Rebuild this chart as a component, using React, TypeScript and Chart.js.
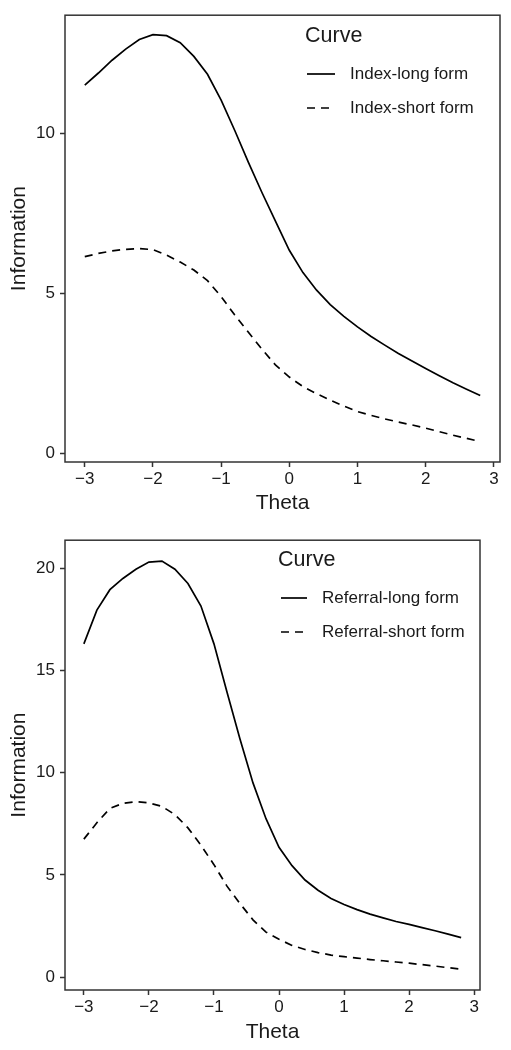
import React, { useEffect, useRef } from "react";
import { Chart, registerables } from "chart.js";

Chart.register(...registerables);

// ---- data ----
const theta = [
  -3.0, -2.8, -2.6, -2.4, -2.2, -2.0, -1.8, -1.6, -1.4, -1.2,
  -1.0, -0.8, -0.6, -0.4, -0.2, 0.0, 0.2, 0.4, 0.6, 0.8,
  1.0, 1.2, 1.4, 1.6, 1.8, 2.0, 2.2, 2.4, 2.6, 2.8,
];

const indexLong = [
  11.52, 11.9, 12.3, 12.65, 12.95, 13.1, 13.07, 12.85, 12.42, 11.86,
  11.05, 10.1, 9.1, 8.15, 7.25, 6.35, 5.65, 5.1, 4.65, 4.28,
  3.95, 3.65, 3.38, 3.12, 2.88, 2.65, 2.42, 2.2, 2.0, 1.8,
];

const indexShort = [
  6.15, 6.25, 6.33, 6.38, 6.4, 6.37, 6.2, 5.98, 5.73, 5.4,
  4.9, 4.32, 3.78, 3.25, 2.75, 2.38, 2.08, 1.86, 1.66, 1.47,
  1.3, 1.18, 1.07, 0.97, 0.88, 0.78, 0.67, 0.56, 0.46, 0.36,
];

const referralLong = [
  16.3, 17.95, 18.95, 19.5, 19.95, 20.3, 20.35, 19.95, 19.25, 18.15,
  16.3, 13.95, 11.65, 9.5, 7.75, 6.35, 5.45, 4.75, 4.25, 3.85,
  3.55, 3.3, 3.08, 2.9, 2.72, 2.58, 2.42, 2.27, 2.1, 1.93,
];

const referralShort = [
  6.75, 7.55, 8.25, 8.5, 8.58, 8.52, 8.35, 7.95, 7.3, 6.45,
  5.5, 4.45, 3.6, 2.8, 2.2, 1.85, 1.55, 1.35, 1.2, 1.08,
  1.0, 0.93, 0.86, 0.8, 0.74, 0.68, 0.61, 0.54, 0.46, 0.39,
];

const xTicks = [-3, -2, -1, 0, 1, 2, 3];
const yTicksIndex = [0, 5, 10];
const yTicksReferral = [0, 5, 10, 15, 20];

const legendTitle = "Curve";
const indexLabels = ["Index-long form", "Index-short form"];
const referralLabels = ["Referral-long form", "Referral-short form"];
const xTitle = "Theta";
const yTitle = "Information";

// ---- styling ----
const FONT = '"Liberation Sans", Arial, sans-serif';
const TEXT = "#1a1a1a";
const FRAME = "#333333";
const W = 511;
const H = 525;

type Panel = {
  long: number[];
  short: number[];
  labels: string[];
  yTicks: number[];
  yMin: number;
  yMax: number;
  padTop: number;
  padRight: number;
  xAxisHeight: number;
  xTitlePad: number;
  legend: { titleX: number; titleY: number; rows: number[]; lineX0: number; lineX1: number; textX: number };
};

const panels: Panel[] = [
  {
    long: indexLong,
    short: indexShort,
    labels: indexLabels,
    yTicks: yTicksIndex,
    yMin: -0.28,
    yMax: 13.71,
    padTop: 10,
    padRight: 11,
    xAxisHeight: 63,
    xTitlePad: 9.4,
    legend: { titleX: 305, titleY: 36, rows: [74, 108], lineX0: 307, lineX1: 335, textX: 350 },
  },
  {
    long: referralLong,
    short: referralShort,
    labels: referralLabels,
    yTicks: yTicksReferral,
    yMin: -0.63,
    yMax: 21.37,
    padTop: 12,
    padRight: 31,
    xAxisHeight: 60,
    xTitlePad: 5.4,
    legend: { titleX: 278, titleY: 35, rows: [73, 107], lineX0: 281, lineX1: 307, textX: 322 },
  },
];

function PanelChart({ p, top }: { p: Panel; top: number }) {
  const ref = useRef<HTMLCanvasElement | null>(null);

  useEffect(() => {
    if (!ref.current) return;
    const framePlugin = {
      id: "frameAndLegend",
      afterDatasetsDraw(chart: any) {
        const { ctx, chartArea } = chart;
        ctx.save();
        ctx.strokeStyle = FRAME;
        ctx.lineWidth = 1.5;
        ctx.setLineDash([]);
        ctx.strokeRect(chartArea.left, chartArea.top, chartArea.right - chartArea.left, chartArea.bottom - chartArea.top);
        const L = p.legend;
        ctx.fillStyle = TEXT;
        ctx.textBaseline = "middle";
        ctx.textAlign = "left";
        ctx.font = `21.5px ${FONT}`;
        ctx.fillText(legendTitle, L.titleX, L.titleY);
        ctx.font = `17px ${FONT}`;
        chart.data.datasets.forEach((ds: any, i: number) => {
          const y = L.rows[i];
          ctx.beginPath();
          ctx.setLineDash(ds.borderDash || []);
          ctx.lineWidth = ds.borderWidth;
          ctx.strokeStyle = ds.borderColor;
          ctx.moveTo(L.lineX0, y);
          ctx.lineTo(L.lineX1, y);
          ctx.stroke();
          ctx.setLineDash([]);
          ctx.fillText(ds.label, L.textX, y);
        });
        ctx.restore();
      },
    };

    const chart = new Chart(ref.current, {
      type: "line",
      data: {
        datasets: [
          {
            label: p.labels[0],
            data: theta.map((t, i) => ({ x: t, y: p.long[i] })),
            borderColor: "#000000",
            borderWidth: 1.7,
            pointRadius: 0,
            tension: 0,
            fill: false,
          },
          {
            label: p.labels[1],
            data: theta.map((t, i) => ({ x: t, y: p.short[i] })),
            borderColor: "#000000",
            borderWidth: 1.7,
            borderDash: [8, 6],
            pointRadius: 0,
            tension: 0,
            fill: false,
          },
        ],
      },
      options: {
        animation: false,
        responsive: false,
        devicePixelRatio: 1,
        layout: { padding: { top: p.padTop, right: p.padRight, left: 0, bottom: 0 } },
        plugins: { legend: { display: false }, tooltip: { enabled: false } },
        scales: {
          x: {
            type: "linear",
            min: -3.29,
            max: 3.09,
            afterBuildTicks: (s: any) => {
              s.ticks = xTicks.map((v) => ({ value: v }));
            },
            afterFit: (s: any) => {
              s.height = p.xAxisHeight;
            },
            grid: {
              drawOnChartArea: false,
              drawTicks: true,
              tickLength: 5,
              tickColor: FRAME,
              tickWidth: 1.5,
            },
            border: { display: false },
            ticks: {
              color: TEXT,
              font: { family: FONT, size: 17 },
              padding: 2.5,
              maxRotation: 0,
              autoSkip: false,
              callback: (v: any) => (Number(v) < 0 ? "\u2212" + Math.abs(Number(v)) : String(v)),
            },
            title: {
              display: true,
              text: xTitle,
              color: TEXT,
              font: { family: FONT, size: 21 },
              padding: { top: 0, bottom: p.xTitlePad },
            },
          },
          y: {
            type: "linear",
            min: p.yMin,
            max: p.yMax,
            afterBuildTicks: (s: any) => {
              s.ticks = p.yTicks.map((v) => ({ value: v }));
            },
            afterFit: (s: any) => {
              s.width = 65;
            },
            grid: {
              drawOnChartArea: false,
              drawTicks: true,
              tickLength: 5,
              tickColor: FRAME,
              tickWidth: 1.5,
            },
            border: { display: false },
            ticks: {
              color: TEXT,
              font: { family: FONT, size: 17 },
              padding: 5,
              autoSkip: false,
            },
            title: {
              display: true,
              text: yTitle,
              color: TEXT,
              font: { family: FONT, size: 21 },
              padding: { top: 6.4, bottom: 0 },
            },
          },
        },
      },
      plugins: [framePlugin],
    });
    return () => chart.destroy();
  }, [p]);

  return (
    <div style={{ position: "absolute", left: 0, top, width: W, height: H }}>
      <canvas ref={ref} width={W} height={H} style={{ display: "block", width: W, height: H }} />
    </div>
  );
}

export default function App() {
  return (
    <div style={{ position: "absolute", left: 0, top: 0, width: W, height: 2 * H, background: "#ffffff" }}>
      <PanelChart p={panels[0]} top={0} />
      <PanelChart p={panels[1]} top={H} />
    </div>
  );
}
